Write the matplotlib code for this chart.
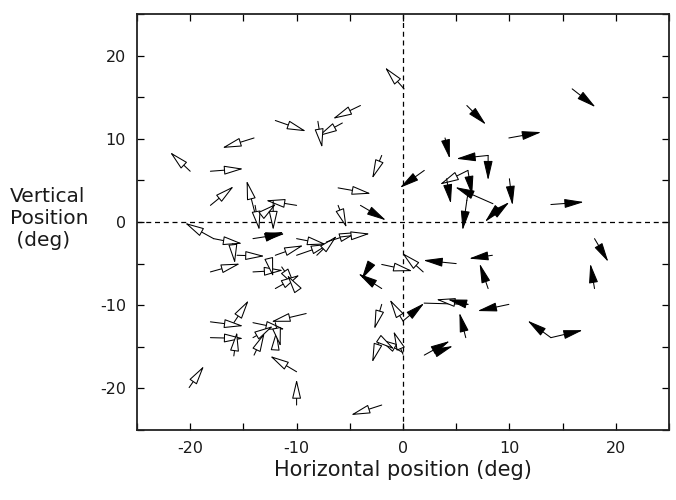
import matplotlib
matplotlib.use("Agg")
import matplotlib.pyplot as plt
from matplotlib.ticker import MultipleLocator, FuncFormatter

plt.rcParams['axes.unicode_minus'] = False
plt.rcParams['font.family'] = ['DejaVu Sans']

# open-headed arrows: start (x0, y0) -> tip (x1, y1), degrees
ox0 = [-12.0, -14.0, -20.0, 0.1, -4.0, -5.7, -8.0, -18.1, -18.1, -13.7, -13.9, -10.0, -13.3, -12.2,
       -2.0, -6.1, -6.1, -17.8, -16.6, -16.0, -15.6, -18.1, -12.0, -10.0, -10.0, -8.1, -7.2, -5.9,
       -14.1, -12.5, -11.4, -12.0, -10.0, 1.9, -2.0, -15.9, -18.1, -18.1, -15.9, -14.1, -9.1, -14.0,
       -14.1, -12.0, -10.0, -20.1, -10.0, -12.0, -2.0, 0.0, 0.0, -2.2, 0.0, -2.2, -2.0, 5.0, 6.1]
oy0 = [12.2, 10.1, 6.1, 16.0, 14.0, 11.9, 12.1, 6.1, 2.0, 0.0, 2.0, 2.0, 0.8, 2.5,
       8.0, 4.1, 2.0, -2.0, -2.3, -2.6, -4.0, -6.0, -4.0, -2.0, -4.0, -4.0, -2.4, -1.8,
       -6.0, -5.0, -5.4, -8.0, -8.0, -6.0, -5.1, -12.1, -12.0, -13.9, -16.1, -12.1, -11.0, -16.0,
       -13.9, -15.1, -18.0, -19.9, -22.0, -12.1, -9.9, -11.9, -15.9, -14.1, -15.7, -14.1, -22.0, -9.7, 6.2]
ox1 = [-9.1, -17.0, -21.9, -1.7, -6.6, -8.0, -7.6, -15.0, -15.9, -14.7, -13.5, -12.9, -11.9, -12.2,
       -2.9, -3.0, -5.3, -20.5, -15.1, -15.8, -13.0, -15.3, -9.35, -7.2, -6.85, -6.2, -4.2, -3.1,
       -11.25, -12.2, -10.1, -9.7, -10.9, -0.1, 0.9, -14.5, -15.0, -15.0, -15.6, -11.1, -12.4, -13.0,
       -12.2, -11.9, -12.5, -18.7, -10.0, -11.5, -2.7, -1.25, -0.9, -2.9, -2.35, -0.8, -4.9, 3.1, 3.45]
oy1 = [10.9, 8.9, 8.4, 18.6, 12.4, 10.3, 8.9, 6.4, 4.3, 5.0, -1.0, 2.6, 2.2, -1.0,
       5.2, 3.4, -0.7, -0.1, -2.6, -5.0, -4.1, -5.0, -2.8, -2.7, -2.6, -1.65, -1.2, -1.4,
       -5.8, -6.6, -7.8, -6.35, -6.35, -3.7, -5.9, -9.4, -12.5, -14.0, -13.2, -12.9, -12.0, -13.3,
       -12.5, -13.1, -16.1, -17.3, -18.9, -15.0, -12.9, -9.3, -13.1, -16.9, -14.0, -15.3, -23.2, -9.3, 4.5]

# filled-headed arrows
fx0 = [6.0, 3.95, 8.0, 8.0, 15.9, 9.95, -14.1, -12.8, 2.0, -4.0, -3.1, -2.0, 5.0, 8.0, 4.1, 6.1,
       8.45, 6.0, 8.45, 8.45, 13.9, 18.0, 18.0, 0.0, 6.1, 5.9, 9.95, 2.0, 3.1, 13.9, 13.9, 8.4, 10.0]
fy0 = [14.0, 10.1, 8.0, 8.0, 16.0, 10.1, -2.0, -1.8, 6.2, 2.0, -5.2, -8.0, -5.0, -8.0, 5.2, 6.2,
       2.2, 2.6, 1.0, 0.8, 2.1, -2.0, -8.0, -11.9, -9.9, -13.9, -9.9, -16.0, -15.7, -13.9, -13.9, -4.0, 5.2]
fx1 = [7.8, 4.4, 5.0, 8.0, 18.1, 13.0, -11.1, -11.2, -0.3, -1.6, -3.9, -4.2, 1.9, 7.2, 4.5, 6.5,
       4.9, 5.6, 7.7, 10.0, 17.0, 19.3, 17.6, 2.0, 4.2, 5.3, 7.0, 4.4, 4.7, 11.7, 16.9, 6.2, 10.3]
fy1 = [11.7, 7.6, 7.6, 5.0, 13.8, 10.8, -1.4, -1.2, 4.1, 0.2, -6.9, -6.2, -4.6, -5.0, 2.2, 3.2,
       4.2, -1.0, 0.0, 2.4, 2.4, -4.8, -5.0, -9.75, -9.3, -10.9, -10.7, -14.3, -14.9, -11.85, -13.0, -4.4, 2.0]

# plain trajectory segments leading into some arrows
tx0 = [-16.6, 6.1, 2.0]
ty0 = [-2.3, 3.4, -9.75]
tx1 = [-17.8, 6.0, 6.1]
ty1 = [-2.0, 2.6, -9.9]

txt = '#1a1a1a'
fig = plt.figure(figsize=(6.76, 5.0), dpi=100)
ax = fig.add_axes([137/676, 70/500, 532/676, 416/500])

ax.axhline(0, color='black', ls=(0, (4, 3)), lw=0.9, zorder=1)
ax.axvline(0, color='black', ls=(0, (4, 3)), lw=0.9, zorder=1)

for a, b, c, d in zip(tx0, ty0, tx1, ty1):
    ax.plot([a, c], [b, d], color='black', lw=0.75, zorder=2)


def arrow(x0, y0, x1, y1, fill):
    ax.annotate('', xy=(x1, y1), xytext=(x0, y0),
                arrowprops=dict(arrowstyle='-|>,head_length=1.2,head_width=0.28',
                                fc=fill, ec='black', lw=0.75,
                                shrinkA=0, shrinkB=0, mutation_scale=10),
                zorder=3)


for a, b, c, d in zip(ox0, oy0, ox1, oy1):
    arrow(a, b, c, d, 'white')
for a, b, c, d in zip(fx0, fy0, fx1, fy1):
    arrow(a, b, c, d, 'black')

ax.set_xlim(-25, 25)
ax.set_ylim(-25, 25)
ax.xaxis.set_major_locator(MultipleLocator(5))
ax.yaxis.set_major_locator(MultipleLocator(5))
fmt = FuncFormatter(lambda v, p: '%d' % v if round(v) % 10 == 0 else '')
ax.xaxis.set_major_formatter(fmt)
ax.yaxis.set_major_formatter(fmt)
ax.tick_params(direction='in', length=5, width=0.9, top=True, right=True,
               labelsize=11.5, labelcolor=txt)
ax.tick_params(axis='x', pad=8)
ax.tick_params(axis='y', pad=8)
for s in ax.spines.values():
    s.set_linewidth(1.3)
    s.set_color('#222222')

ax.set_xlabel('Horizontal position (deg)', fontsize=15, labelpad=3, color=txt)
fig.text(10/676, (500 - 218)/500, 'Vertical\nPosition\n (deg)', fontsize=14.5,
         ha='left', va='center', linespacing=1.2, multialignment='left', color=txt)

fig.savefig('out.png', dpi=100)
